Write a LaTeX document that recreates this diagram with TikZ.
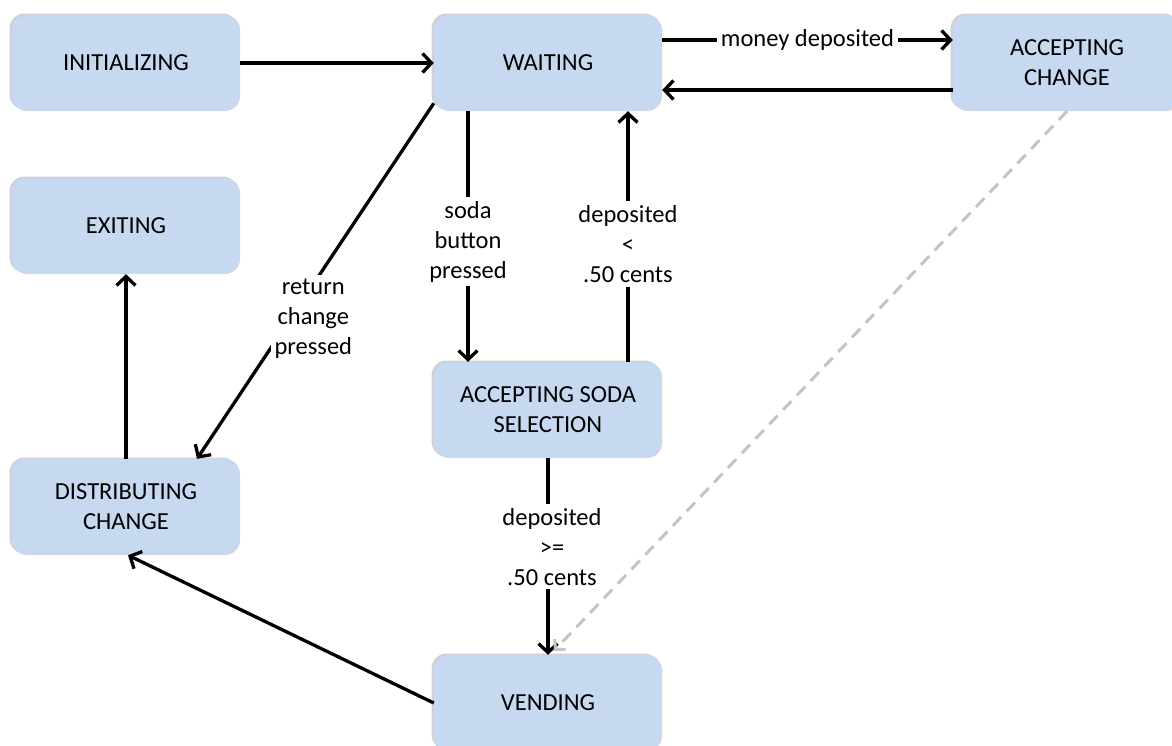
\documentclass[tikz,border=0pt]{standalone}
\usepackage{fontspec}
\setmainfont{Carlito}
\usetikzlibrary{arrows.meta,shadows}
\definecolor{boxblue}{RGB}{198,217,240}
\definecolor{dashgray}{RGB}{196,196,196}

\begin{document}
\begin{tikzpicture}[x=1pt,y=-1pt,
  txt/.style={font=\fontsize{24.5}{30}\selectfont, text=black},
  state/.style={txt, rounded corners=15pt, fill=boxblue, minimum width=228pt,
    minimum height=96pt, align=center,
    general shadow={fill=black, opacity=0.18, shadow xshift=-2.5pt, shadow yshift=1.5pt}},
  lbl/.style={txt, fill=white, align=center, inner sep=4pt},
  arr/.style={line width=3.3pt, black, -{Straight Barb[length=9pt,width=19pt]}},
  darr/.style={line width=3pt, dashgray, dash pattern=on 12pt off 8pt,
    -{Straight Barb[length=7pt,width=15pt]}}
]
\useasboundingbox (0,0) rectangle (1172,745);
\clip (0,0) rectangle (1172,745);

% states
\node[state] (init) at (126,63)  {INITIALIZING};
\node[state] (wait) at (548,63)  {WAITING};
\node[state] (acc)  at (1067,63) {ACCEPTING\\CHANGE};
\node[state] (exit) at (126,226) {EXITING};
\node[state] (dist) at (126,507) {DISTRIBUTING\\CHANGE};
\node[state] (soda) at (548,410) {ACCEPTING SODA\\SELECTION};
\node[state] (vend) at (548,703) {VENDING};

% transitions
\draw[arr] (init) -- (wait);
\draw[arr] ([yshift=23pt]wait.east) -- node[lbl] (lmoney) {money deposited} ([yshift=23pt]acc.west);
\draw[arr] ([yshift=-27pt]acc.west) -- ([yshift=-27pt]wait.east);
\draw[arr] ([xshift=-80pt]wait.south) -- node[lbl, pos=0.52] (lsoda) {soda\\button\\pressed} ([xshift=-80pt]soda.north);
\draw[arr] ([xshift=80pt]soda.north) -- node[lbl, pos=0.47] (lless) {deposited\\<\\.50 cents} ([xshift=80pt]wait.south);
\draw[arr] ([yshift=8pt]wait.south west) -- node[lbl, pos=0.606, xshift=23pt] (lret) {return\\change\\pressed} ([xshift=71pt]dist.north);
\draw[arr] (dist) -- (exit);
\draw[arr] (soda) -- node[lbl, pos=0.45, xshift=4pt] (lmore) {deposited\\>=\\.50 cents} (vend);
\draw[arr] (vend.west) -- ([xshift=2pt]dist.south);
\draw[darr] (acc.south) -- ([xshift=6pt,yshift=4pt]vend.north);
\end{tikzpicture}
\end{document}
